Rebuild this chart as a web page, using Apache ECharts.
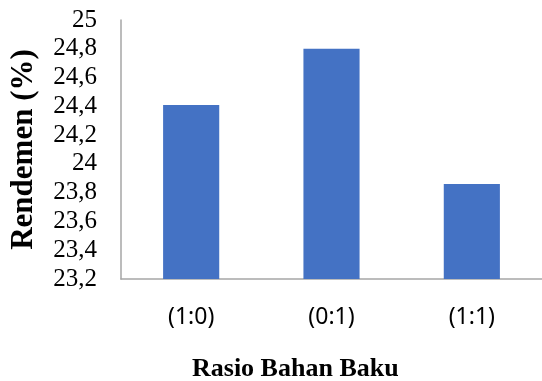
<!DOCTYPE html>
<html>
<head>
<meta charset="utf-8">
<script src="https://cdn.jsdelivr.net/npm/echarts@6/dist/echarts.min.js"></script>
<style>
  html, body { margin: 0; padding: 0; background: #fff; }
  #chart { width: 542px; height: 381px; }
</style>
</head>
<body>
<div id="chart"></div>
<script>
// data
var categories = ['(1:0)', '(0:1)', '(1:1)'];
var rendemen = [24.41, 24.80, 23.86];

var myChart = echarts.init(document.getElementById('chart'));
var option = {
    animation: false,
    grid: {
        left: 117,
        top: 20,
        width: 429,
        height: 259
    },
    xAxis: {
        type: 'category',
        data: categories,
        axisLine: { lineStyle: { color: '#a6a6a6', width: 1.5 } },
        axisTick: { show: false },
        axisLabel: {
            color: '#000',
            fontFamily: 'Noto Sans',
            fontSize: 23,
            margin: 27
        }
    },
    yAxis: {
        type: 'value',
        min: 23.2,
        max: 25,
        interval: 0.2,
        name: 'Rendemen (%)',
        nameLocation: 'middle',
        nameGap: 82,
        nameRotate: 90,
        nameTextStyle: {
            color: '#000',
            fontFamily: 'Liberation Serif',
            fontWeight: 'bold',
            fontSize: 31
        },
        splitLine: { show: false },
        axisTick: { show: false },
        axisLine: { show: true, lineStyle: { color: '#a6a6a6', width: 1.5 } },
        axisLabel: {
            color: '#000',
            fontFamily: 'Liberation Serif',
            fontSize: 25,
            margin: 24,
            formatter: function (v) {
                return String(Math.round(v * 10) / 10).replace('.', ',');
            }
        }
    },
    graphic: [{
        type: 'text',
        left: 192,
        top: 356,
        style: {
            text: 'Rasio Bahan Baku',
            fill: '#000',
            font: 'bold 26px "Liberation Serif"'
        }
    }],
    series: [{
        type: 'bar',
        data: rendemen,
        barWidth: '40%',
        itemStyle: { color: '#4472c4' }
    }]
};
myChart.setOption(option);
</script>
</body>
</html>
